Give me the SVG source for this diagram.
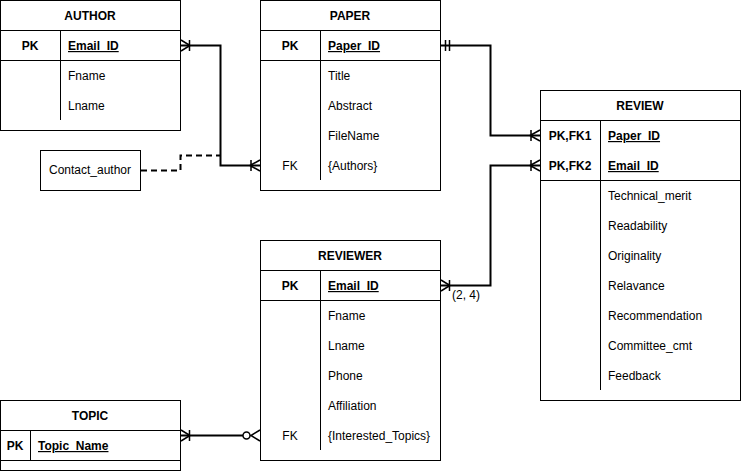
<svg xmlns="http://www.w3.org/2000/svg" width="741" height="471" viewBox="0 0 741 471">
<style>
.box{fill:#fff;stroke:#000;stroke-width:1}
.ln{stroke:#000;stroke-width:1;fill:none}
text{font-family:"Liberation Sans",Arial,sans-serif;font-size:12px;fill:#000}
.t{font-weight:bold;text-anchor:middle}
.k{font-weight:bold;text-anchor:middle}
.u{font-weight:bold;text-decoration:underline}
.c{stroke:#000;stroke-width:2;fill:none}
.d{stroke:#000;stroke-width:2;fill:none;stroke-dasharray:6 4}
.m{stroke:#000;stroke-width:1.5;fill:none}
</style>
<rect width="741" height="471" fill="#fff"/>
<g id="author">
<rect class="box" x="0.5" y="0.5" width="180" height="130"/>
<line class="ln" x1="0" y1="30.5" x2="180" y2="30.5"/>
<line class="ln" x1="0" y1="60.5" x2="180" y2="60.5"/>
<line class="ln" x1="60.5" y1="30" x2="60.5" y2="120"/>
<text class="t" x="90" y="20">AUTHOR</text>
<text class="k" x="30" y="50">PK</text>
<text class="u" x="68" y="50">Email_ID</text>
<text x="68" y="80">Fname</text>
<text x="68" y="110">Lname</text>
</g>
<g id="paper">
<rect class="box" x="260.5" y="0.5" width="180" height="190"/>
<line class="ln" x1="260" y1="30.5" x2="440" y2="30.5"/>
<line class="ln" x1="260" y1="60.5" x2="440" y2="60.5"/>
<line class="ln" x1="320.5" y1="30" x2="320.5" y2="180"/>
<text class="t" x="350" y="20">PAPER</text>
<text class="k" x="290" y="50">PK</text>
<text class="u" x="328" y="50">Paper_ID</text>
<text x="328" y="80">Title</text>
<text x="328" y="110">Abstract</text>
<text x="328" y="140">FileName</text>
<text x="290" y="170" text-anchor="middle">FK</text>
<text x="328" y="170">{Authors}</text>
</g>
<g id="contact_author">
<rect class="box" x="40.5" y="150.5" width="100" height="40"/>
<text x="90" y="174" text-anchor="middle">Contact_author</text>
</g>
<g id="review">
<rect class="box" x="540.5" y="90.5" width="200" height="310"/>
<line class="ln" x1="540" y1="120.5" x2="740" y2="120.5"/>
<line class="ln" x1="540" y1="180.5" x2="740" y2="180.5"/>
<line class="ln" x1="600.5" y1="120" x2="600.5" y2="390"/>
<text class="t" x="640" y="110">REVIEW</text>
<text class="k" x="570" y="140">PK,FK1</text>
<text class="u" x="608" y="140">Paper_ID</text>
<text class="k" x="570" y="170">PK,FK2</text>
<text class="u" x="608" y="170">Email_ID</text>
<text x="608" y="200">Technical_merit</text>
<text x="608" y="230">Readability</text>
<text x="608" y="260">Originality</text>
<text x="608" y="290">Relavance</text>
<text x="608" y="320">Recommendation</text>
<text x="608" y="350">Committee_cmt</text>
<text x="608" y="380">Feedback</text>
</g>
<g id="reviewer">
<rect class="box" x="260.5" y="240.5" width="180" height="220"/>
<line class="ln" x1="260" y1="270.5" x2="440" y2="270.5"/>
<line class="ln" x1="260" y1="300.5" x2="440" y2="300.5"/>
<line class="ln" x1="320.5" y1="270" x2="320.5" y2="450"/>
<text class="t" x="350" y="260">REVIEWER</text>
<text class="k" x="290" y="290">PK</text>
<text class="u" x="328" y="290">Email_ID</text>
<text x="328" y="320">Fname</text>
<text x="328" y="350">Lname</text>
<text x="328" y="380">Phone</text>
<text x="328" y="410">Affiliation</text>
<text x="290" y="440" text-anchor="middle">FK</text>
<text x="328" y="440">{Interested_Topics}</text>
</g>
<g id="topic">
<rect class="box" x="0.5" y="400.5" width="180" height="70"/>
<line class="ln" x1="0" y1="430.5" x2="180" y2="430.5"/>
<line class="ln" x1="0" y1="460.5" x2="180" y2="460.5"/>
<line class="ln" x1="30.5" y1="430" x2="30.5" y2="460"/>
<text class="t" x="90" y="420">TOPIC</text>
<text class="k" x="15" y="450">PK</text>
<text class="u" x="38" y="450">Topic_Name</text>
</g>
<g id="connectors">
<path class="c" d="M181 45.5H220.5V165.5H260"/>
<path class="m" d="M181 40L190 45.5L181 51M189.5 40V51"/>
<path class="m" d="M260 160L250 165.5L260 171M251 160V171"/>
<path class="d" d="M141 170.5H180.5V155.5H220"/>
<path class="c" d="M441 45.5H490.5V135.5H540"/>
<path class="m" d="M445.5 40V51M449.5 40V51"/>
<path class="m" d="M540 130L530 135.5L540 141M531 130V141"/>
<path class="c" d="M441 285.5H490.5V165.5H540"/>
<path class="m" d="M441 280L450 285.5L441 291M449.5 280V291"/>
<path class="m" d="M540 160L530 165.5L540 171M531 160V171"/>
<text x="452" y="299">(2, 4)</text>
<path class="c" d="M181 435.5H243"/>
<path class="m" d="M181 430L190 435.5L181 441M189.5 430V441"/>
<path class="m" d="M260 430L251 435.5L260 441M251 435.5H250"/>
<circle cx="246.5" cy="435.5" r="3.5" fill="#fff" stroke="#000" stroke-width="1.5"/>
</g>
</svg>
